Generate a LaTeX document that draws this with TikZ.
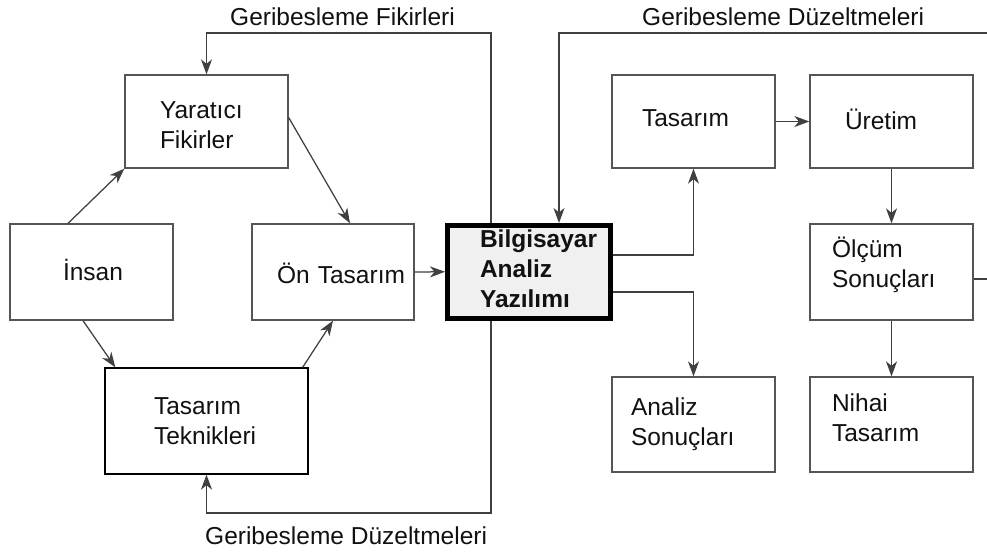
\documentclass[tikz,border=0pt]{standalone}
\usepackage{fontspec}
\setmainfont{Liberation Sans}
\usetikzlibrary{arrows.meta}
\definecolor{boxc}{HTML}{555555}
\definecolor{linec}{HTML}{404040}
\definecolor{txtc}{HTML}{111111}
\definecolor{bilfill}{HTML}{F0F0F0}
% #1 left padding, #2 downward shift, #3 lines
\newcommand{\boxtext}[3]{\hspace*{#1}\raisebox{-#2}[\height][\depth]{\begin{tabular}[c]{@{}l@{}}#3\end{tabular}}}
\begin{document}
\begin{tikzpicture}[x=1pt,y=-1pt,
  box/.style={draw=boxc, line width=1.3pt, inner xsep=0pt, inner ysep=0pt,
    align=left, text=txtc, font=\fontsize{24.5}{30}\selectfont},
  conn/.style={draw=linec, line width=1.25pt, -{Stealth[length=15pt,width=11pt,inset=4.5pt]}},
  lbl/.style={text=txtc, font=\fontsize{24.5}{30}\selectfont, inner sep=0pt, anchor=base west}]
\clip (0,0) rectangle (987,552);
\fill[white] (0,0) rectangle (987,552);

% boxes
\node[box, text width=163pt, minimum height=93pt] (yar) at (206.5,121.5) {\boxtext{35pt}{6pt}{Yaratıcı\\Fikirler}};
\node[box, text width=163pt, minimum height=96pt] (ins) at (91.5,272) {\boxtext{53pt}{2pt}{İnsan}};
\node[box, text width=162pt, minimum height=96pt] (on) at (333,272) {\boxtext{25pt}{5pt}{Ön Tasarım}};
\node[box, draw=black, line width=5pt, fill=bilfill, text width=162.5pt, minimum height=92.5pt, font=\fontsize{24.5}{30}\selectfont\bfseries] (bil) at (528.75,271.75) {\boxtext{32.5pt}{0pt}{Bilgisayar\\Analiz\\Yazılımı}};
\node[box, draw=black, text width=203pt, minimum height=106pt] (tt) at (206.5,421) {\boxtext{49pt}{2pt}{Tasarım\\Teknikleri}};
\node[box, text width=163pt, minimum height=93pt] (tas) at (693.5,121.5) {\boxtext{30pt}{-1pt}{Tasarım}};
\node[box, text width=163pt, minimum height=93pt] (ure) at (891.5,121.5) {\boxtext{35pt}{2pt}{Üretim}};
\node[box, text width=163pt, minimum height=96pt] (olc) at (891.5,272) {\boxtext{22pt}{-6pt}{Ölçüm\\Sonuçları}};
\node[box, text width=163pt, minimum height=95pt] (ans) at (693.5,424.5) {\boxtext{19pt}{0pt}{Analiz\\Sonuçları}};
\node[box, text width=163pt, minimum height=95pt] (nih) at (891.5,424.5) {\boxtext{22pt}{-4pt}{Nihai\\Tasarım}};

% feedback coordinates
\coordinate (topy) at (0,33);
\coordinate (boty) at (0,513);
\coordinate (rightx) at (1000,0);

% left-side connectors
\draw[conn] ([xshift=-23.5pt]ins.north) -- (yar.south west);
\draw[conn] ([yshift=4pt]yar.east) -- ([xshift=17pt]on.north);
\draw[conn] ([xshift=-8.5pt]ins.south) -- ([xshift=11pt]tt.north west);
\draw[conn] ([xshift=-6pt]tt.north east) -- (on.south);
\draw[conn] (on.east) -- (bil.west);

% feedback loops on the left
\draw[conn] ([xshift=-37.75pt]bil.north) |- (topy -| yar.north) -- (yar.north);
\draw[conn] ([xshift=-37.75pt]bil.south) |- (boty -| tt.south) -- (tt.south);

% right-side connectors
\draw[conn] ([yshift=16.75pt]bil.east) -| (tas.south);
\draw[conn] ([yshift=-20.25pt]bil.east) -| (ans.north);
\draw[conn] (tas.east) -- (ure.west);
\draw[conn] (ure.south) -- (olc.north);
\draw[conn] (olc.south) -- (nih.north);

% feedback from measurement results (loop leaves the picture on the right)
\draw[conn] ([yshift=-7pt]olc.east) -- ([yshift=-7pt]olc.east -| rightx) |- (topy -| 559,0) -- ([xshift=30.25pt]bil.north);

% labels
\node[lbl] (lf) at (230,25.5) {Geribesleme Fikirleri};
\node[lbl] (lr) at (642,25.5) {Geribesleme Düzeltmeleri};
\node[lbl] (lb) at (205,544) {Geribesleme Düzeltmeleri};
\end{tikzpicture}
\end{document}
